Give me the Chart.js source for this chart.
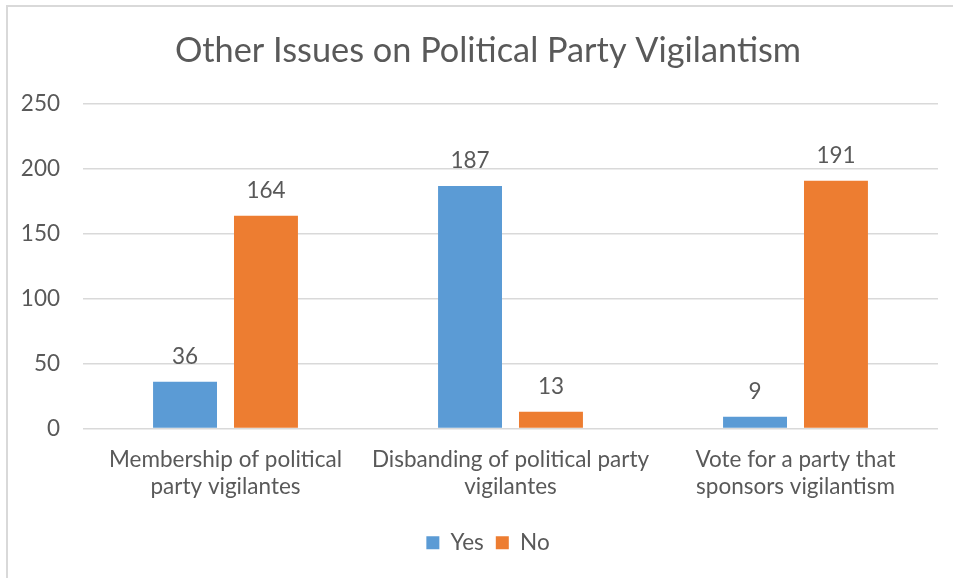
<!DOCTYPE html>
<html>
<head>
<meta charset="utf-8">
<script src="https://cdn.jsdelivr.net/npm/chart.js@4/dist/chart.umd.min.js"></script>
<style>
  html, body { margin: 0; padding: 0; background: #fff; }
  #wrap { position: relative; width: 953px; height: 578px; }
</style>
</head>
<body>
<div id="wrap"><canvas id="c" width="953" height="578"></canvas></div>
<script>
const categories = [
  ["Membership of political", "party vigilantes"],
  ["Disbanding of political party", "vigilantes"],
  ["Vote for a party that", "sponsors vigilantism"]
];
const yesValues = [36, 187, 9];
const noValues = [164, 13, 191];
const seriesNames = ["Yes", "No"];
const yTicks = [0, 50, 100, 150, 200, 250];

const FONT = "Lato, 'Open Sans', sans-serif";
const TEXT = "#595959";
const FS = 22.5;

const valueLabels = {
  id: "valueLabels",
  afterDatasetsDraw(chart) {
    const ctx = chart.ctx;
    ctx.save();
    ctx.font = FS + "px " + FONT;
    ctx.fillStyle = TEXT;
    ctx.textAlign = "center";
    ctx.textBaseline = "bottom";
    chart.data.datasets.forEach((ds, i) => {
      const meta = chart.getDatasetMeta(i);
      meta.data.forEach((el, j) => {
        ctx.fillText(String(ds.data[j]), el.x, el.y - 14);
      });
    });
    ctx.restore();
  }
};

const frame = {
  id: "frame",
  beforeDraw(chart) {
    const ctx = chart.ctx;
    ctx.save();
    ctx.strokeStyle = "#D9D9D9";
    ctx.lineWidth = 2;
    ctx.beginPath();
    ctx.moveTo(953, 6);
    ctx.lineTo(7, 6);
    ctx.lineTo(7, 578);
    ctx.stroke();
    ctx.restore();
  }
};

new Chart(document.getElementById("c"), {
  type: "bar",
  data: {
    labels: categories,
    datasets: [
      { label: seriesNames[0], data: yesValues, backgroundColor: "#5B9BD5",
        categoryPercentage: 0.568, barPercentage: 0.79 },
      { label: seriesNames[1], data: noValues, backgroundColor: "#ED7D31",
        categoryPercentage: 0.568, barPercentage: 0.79 }
    ]
  },
  options: {
    responsive: false,
    animation: false,
    layout: { padding: { left: 38, right: 15, top: 0, bottom: 14 } },
    plugins: {
      title: {
        display: true,
        text: "Other Issues on Political Party Vigilantism",
        color: TEXT,
        font: { family: FONT, size: 34.3, weight: "normal" },
        padding: { top: 30, bottom: 33 }
      },
      legend: {
        position: "bottom",
        labels: {
          color: TEXT,
          font: { family: FONT, size: FS },
          boxWidth: 13, boxHeight: 13,
          padding: 12
        }
      },
      tooltip: { enabled: false }
    },
    scales: {
      x: {
        grid: { display: false, drawTicks: false },
        border: { display: false },
        ticks: { color: TEXT, font: { family: FONT, size: FS }, padding: 18, maxRotation: 0, autoSkip: false },
        afterFit(scale) { scale.height = 91; }
      },
      y: {
        min: 0, max: 250,
        afterBuildTicks(scale) { scale.ticks = yTicks.map(v => ({ value: v })); },
        grid: { color: "#D9D9D9", lineWidth: 1.5, drawTicks: false },
        border: { display: false },
        ticks: { color: TEXT, font: { family: FONT, size: FS }, padding: 23 },
        afterFit(scale) {
          scale.width = 45;
          scale._computeLabelArea = function () { return undefined; };
        }
      }
    }
  },
  plugins: [valueLabels, frame]
});
</script>
</body>
</html>
